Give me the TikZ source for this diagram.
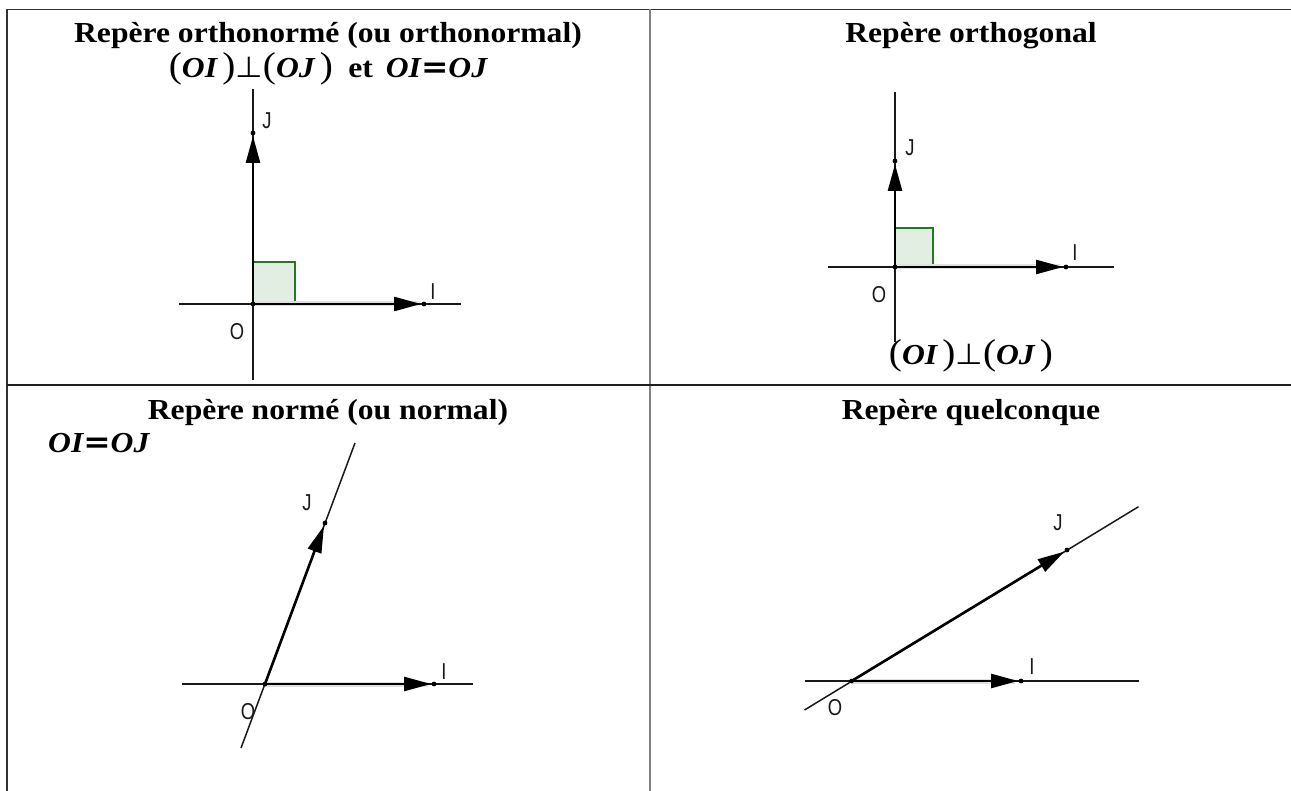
\documentclass[tikz,border=0pt]{standalone}
\usepackage{fontspec}
\usepackage{graphicx}
\setmainfont{Liberation Serif}
\newfontfamily\lblfont{Liberation Sans}
\newfontfamily\symfont{DejaVu Sans}
\usetikzlibrary{arrows.meta}
\definecolor{sqfill}{HTML}{E3EEE3}
\definecolor{sqline}{HTML}{1E7D1E}
\newcommand\wide[1]{\scalebox{1.09}[1]{#1}}
\newcommand\bfi[1]{{\bfseries\itshape #1}}
\newcommand\lpar{{\fontsize{36}{36}\selectfont\mdseries\upshape (}}
\newcommand\rpar{{\fontsize{36}{36}\selectfont\mdseries\upshape )}}
\newcommand\perpsign{{\symfont\fontsize{29}{29}\selectfont ⊥}}
\newcommand\eqsign{{\symfont\bfseries\fontsize{30}{30}\selectfont =}}
\newcommand\lbl[1]{\scalebox{0.8}[1]{\lblfont\fontsize{23}{23}\selectfont #1}}
\tikzset{
  frameline/.style={line width=1.6pt, black!80},
  midvline/.style={line width=1.8pt, black!50},
  titletext/.style={anchor=base, inner sep=0pt, font=\bfseries\fontsize{29}{34}\selectfont},
  mathtext/.style={anchor=base, inner sep=0pt, font=\fontsize{29}{34}\selectfont},
  axisline/.style={line width=1.7pt, black!90},
  vecshadow/.style={line width=5pt, black!12, shorten >=6pt},
  vecline/.style={line width=2.6pt, black, -{Triangle[length=27pt,width=14pt]}, shorten >=3pt},
  rightsq/.style={draw=sqline, fill=sqfill, line width=1.5pt},
  ptlabel/.style={inner sep=0pt, text=black!90},
  ptdot/.style={fill=black}
}
\begin{document}
\begin{tikzpicture}[x=1pt,y=-1pt]
\useasboundingbox (0,0) rectangle (1291,791);
\fill[white] (0,0) rectangle (1291,791);

% table
\coordinate (TL) at (7,9.5);
\coordinate (TR) at (1291,9.5);
\coordinate (BL) at (7,791);
\coordinate (MT) at (650,9.5);
\coordinate (MB) at (650,791);
\coordinate (ML) at (7,385);
\coordinate (MR) at (1291,385);
\draw[frameline] (TL) -- (TR);
\draw[frameline] (TL) -- (BL);
\draw[midvline] (MT) -- (MB);
\draw[frameline, black!88] (ML) -- (MR);

% ---------- cell 1 : orthonorme
\node[titletext] (t1) at (328,43) {\wide{Repère orthonormé (ou orthonormal)}};
\node[mathtext] (m1) at (328,78) {\wide{\lpar\bfi{OI}\,\rpar\perpsign\lpar\bfi{OJ}\,\rpar\hspace{14pt}\textbf{et}\hspace{12pt}\bfi{OI}\eqsign\bfi{OJ}}};
\coordinate (O1) at (253,304);
\coordinate (I1) at (424,304);
\coordinate (J1) at (253,133);
\coordinate (h1a) at (179,304);
\coordinate (h1b) at (461,304);
\coordinate (v1a) at (253,89);
\coordinate (v1b) at (253,380);
\draw[rightsq] (O1) rectangle ++(42,-42);
\draw[axisline] (h1a) -- (h1b);
\draw[axisline] (v1a) -- (v1b);
\draw[vecshadow] (O1) -- (I1);
\draw[vecline] (O1) -- (I1);
\draw[vecline] (O1) -- (J1);
\fill[ptdot] (O1) circle (2.4);
\fill[ptdot] (I1) circle (2.4);
\fill[ptdot] (J1) circle (2.4);
\node[ptlabel] (lJ1) at (267,121) {\lbl{J}};
\node[ptlabel] (lI1) at (433,292) {\lbl{I}};
\node[ptlabel] (lO1) at (237,332) {\lbl{O}};

% ---------- cell 2 : orthogonal
\node[titletext] (t2) at (971,43) {\wide{Repère orthogonal}};
\coordinate (O2) at (895,267);
\coordinate (I2) at (1066,267);
\coordinate (J2) at (895,161);
\coordinate (h2a) at (828,267);
\coordinate (h2b) at (1114,267);
\coordinate (v2a) at (895,92);
\coordinate (v2b) at (895,342);
\draw[rightsq] (O2) rectangle ++(38,-39);
\draw[axisline] (h2a) -- (h2b);
\draw[axisline] (v2a) -- (v2b);
\draw[vecshadow] (O2) -- (I2);
\draw[vecline] (O2) -- (I2);
\draw[vecline] (O2) -- (J2);
\fill[ptdot] (O2) circle (2.4);
\fill[ptdot] (I2) circle (2.4);
\fill[ptdot] (J2) circle (2.4);
\node[ptlabel] (lJ2) at (910,148) {\lbl{J}};
\node[ptlabel] (lI2) at (1075,253) {\lbl{I}};
\node[ptlabel] (lO2) at (879,295) {\lbl{O}};
\node[mathtext] (m2) at (971,365) {\wide{\lpar\bfi{OI}\,\rpar\perpsign\lpar\bfi{OJ}\,\rpar}};

% ---------- cell 3 : norme
\node[titletext] (t3) at (328,420) {\wide{Repère normé (ou normal)}};
\node[mathtext, anchor=base west] (m3) at (48,453) {\wide{\bfi{OI}\eqsign\bfi{OJ}}};
\coordinate (O3) at (265,684);
\coordinate (I3) at (434,684);
\coordinate (J3) at (325,523);
\coordinate (h3a) at (182,684);
\coordinate (h3b) at (473,684);
\coordinate (d3a) at (241,748);
\coordinate (d3b) at (355,443);
\draw[axisline] (h3a) -- (h3b);
\draw[axisline, line width=1.5pt] (d3a) -- (d3b);
\draw[vecshadow] (O3) -- (I3);
\draw[vecline] (O3) -- (I3);
\draw[vecline] (O3) -- (J3);
\fill[ptdot] (O3) circle (2.4);
\fill[ptdot] (I3) circle (2.4);
\fill[ptdot] (J3) circle (2.4);
\node[ptlabel] (lJ3) at (307,503) {\lbl{J}};
\node[ptlabel] (lI3) at (444,672) {\lbl{I}};
\node[ptlabel] (lO3) at (248,712) {\lbl{O}};

% ---------- cell 4 : quelconque
\node[titletext] (t4) at (971,420) {\wide{Repère quelconque}};
\coordinate (O4) at (851.6,681);
\coordinate (I4) at (1021,681);
\coordinate (J4) at (1067,550);
\coordinate (h4a) at (804.5,681);
\coordinate (h4b) at (1138.5,681);
\coordinate (d4a) at (804.5,710);
\coordinate (d4b) at (1138.5,506.7);
\draw[axisline] (h4a) -- (h4b);
\draw[axisline, line width=1.5pt] (d4a) -- (d4b);
\draw[vecshadow] (O4) -- (I4);
\draw[vecline] (O4) -- (I4);
\draw[vecline] (O4) -- (J4);
\fill[ptdot] (O4) circle (2.4);
\fill[ptdot] (I4) circle (2.4);
\fill[ptdot] (J4) circle (2.4);
\node[ptlabel] (lJ4) at (1058,523) {\lbl{J}};
\node[ptlabel] (lI4) at (1032,667) {\lbl{I}};
\node[ptlabel] (lO4) at (835,708) {\lbl{O}};
\end{tikzpicture}
\end{document}
